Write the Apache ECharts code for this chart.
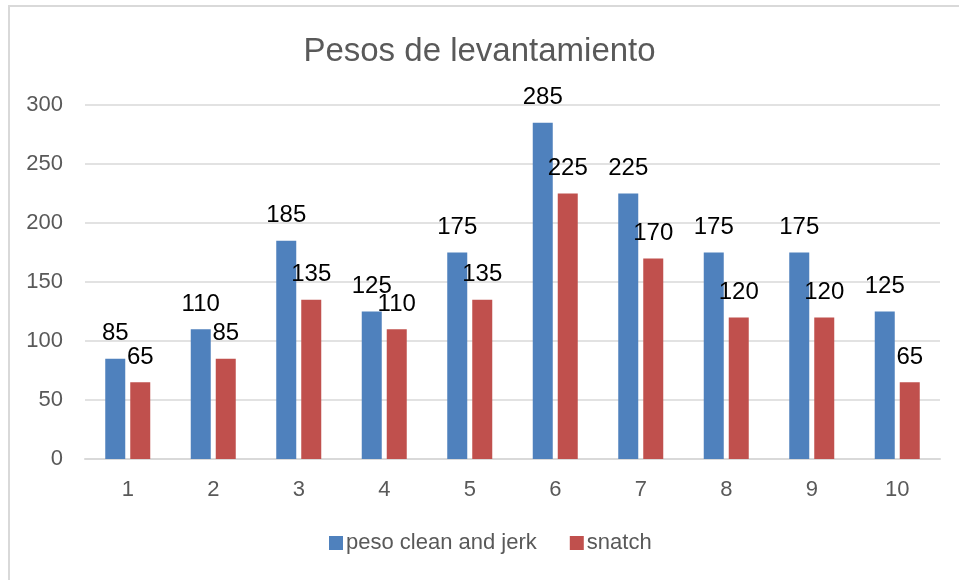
<!DOCTYPE html>
<html>
<head>
<meta charset="utf-8">
<title>Pesos de levantamiento</title>
<script src="https://cdn.jsdelivr.net/npm/echarts@6/dist/echarts.min.js"></script>
<style>
  html, body { margin: 0; padding: 0; background: #fff; }
  #chart { width: 959px; height: 580px; }
</style>
</head>
<body>
<div id="chart"></div>
<script>
// datos
const categories = ['1', '2', '3', '4', '5', '6', '7', '8', '9', '10']
const cleanJerk = [85, 110, 185, 125, 175, 285, 225, 175, 175, 125]
const snatch = [65, 85, 135, 110, 135, 225, 170, 120, 120, 65]
const seriesNames = ['peso clean and jerk', 'snatch']

const font = '"Liberation Sans", "Open Sans", sans-serif'
const gray = '#595959'

const chart = echarts.init(document.getElementById('chart'))

function barSeries(name, data, color) {
  return {
    name,
    type: 'bar',
    data,
    barWidth: 20,
    barGap: '25%',
    itemStyle: { color },
    label: {
      show: true,
      position: 'top',
      distance: 13,
      color: '#000',
      fontFamily: font,
      fontSize: 24,
    },
  }
}

chart.setOption({
  animation: false,
  title: {
    text: 'Pesos de levantamiento',
    left: 'center',
    top: 30,
    textStyle: { color: gray, fontFamily: font, fontSize: 33, fontWeight: 'normal' },
  },
  graphic: [
    {
      type: 'rect',
      shape: { x: 9, y: 6, width: 980, height: 600 },
      style: { fill: 'none', stroke: '#d9d9d9', lineWidth: 2 },
      silent: true,
    },
  ],
  legend: {
    data: seriesNames,
    bottom: 21,
    left: 324,
    itemWidth: 14,
    itemHeight: 14,
    itemGap: 33,
    icon: 'rect',
    textStyle: { color: gray, fontFamily: font, fontSize: 22, padding: [0, 0, 0, -2] },
  },
  grid: { left: 85, right: 19, top: 105, bottom: 121 },
  xAxis: {
    type: 'category',
    data: categories,
    axisLine: { lineStyle: { color: '#d9d9d9', width: 2 } },
    axisTick: { show: false },
    axisLabel: { color: gray, fontFamily: font, fontSize: 22, margin: 20 },
  },
  yAxis: {
    type: 'value',
    min: 0,
    max: 300,
    interval: 50,
    axisLine: { show: false },
    axisTick: { show: false },
    axisLabel: { color: gray, fontFamily: font, fontSize: 22, margin: 22 },
    splitLine: { lineStyle: { color: '#d9d9d9', width: 1.5 } },
  },
  series: [
    barSeries(seriesNames[0], cleanJerk, '#4f81bd'),
    barSeries(seriesNames[1], snatch, '#c0504d'),
  ],
})
</script>
</body>
</html>
